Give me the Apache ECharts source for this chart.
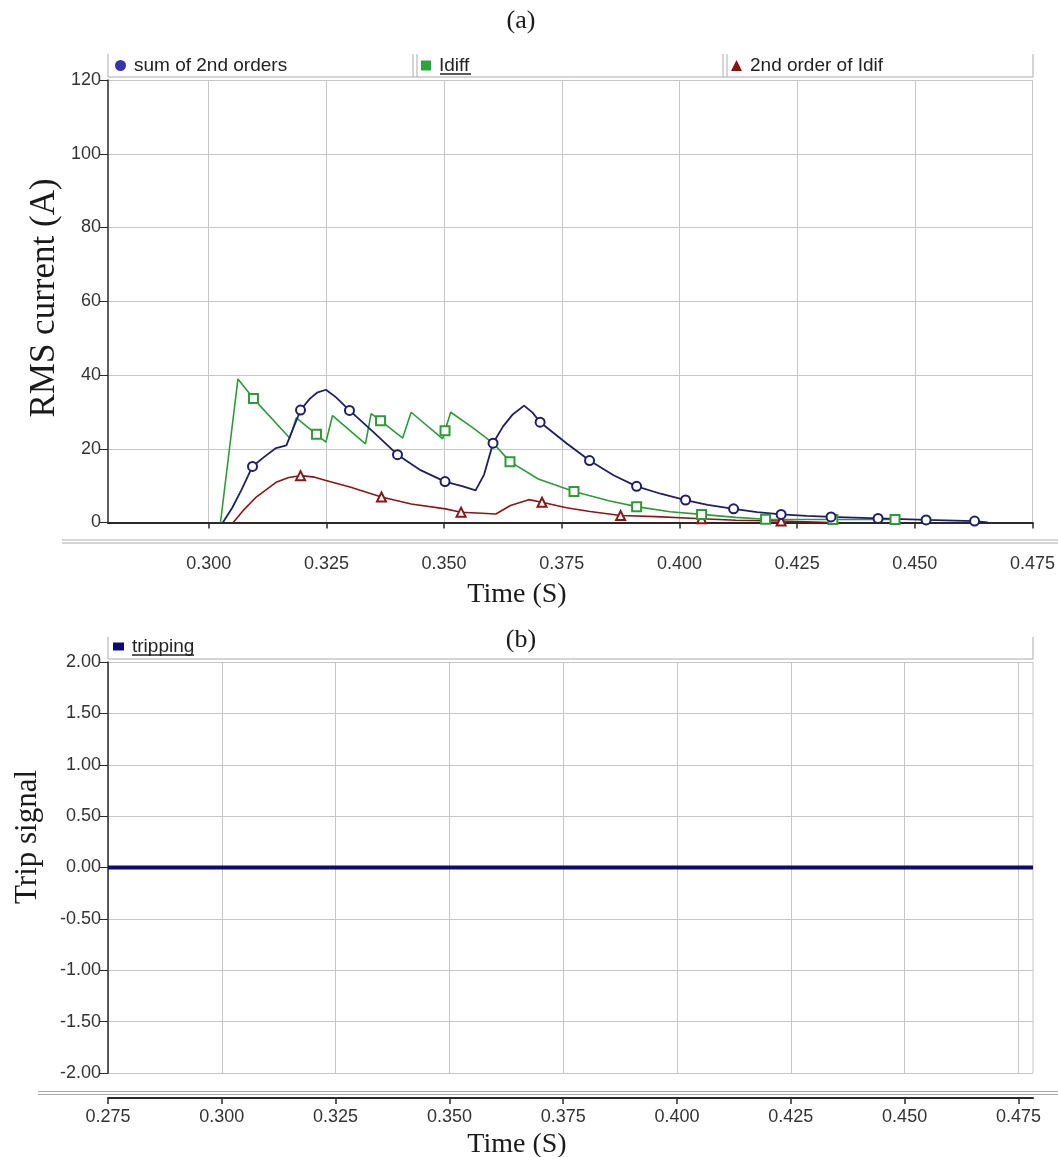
<!DOCTYPE html>
<html><head><meta charset="utf-8">
<script src="https://cdn.jsdelivr.net/npm/echarts@6/dist/echarts.min.js"></script>
<style>html,body{margin:0;padding:0;background:#fff}#c{width:1058px;height:1157px}</style>
</head><body><div id="c"></div>
<script>
// ---- data ----
const X_TICKS_A = [0.300, 0.325, 0.350, 0.375, 0.400, 0.425, 0.450, 0.475];
const X_TICKS_B = [0.275, 0.300, 0.325, 0.350, 0.375, 0.400, 0.425, 0.450, 0.475];

const SUM_T = [0.3030, 0.3050, 0.3070, 0.3093, 0.3120, 0.3143, 0.3165, 0.3186, 0.3195, 0.3215, 0.3230, 0.3249, 0.3270, 0.3299, 0.3350, 0.3401, 0.3450, 0.3502, 0.3540, 0.3567, 0.3585, 0.3604, 0.3625, 0.3645, 0.3670, 0.3688, 0.3704, 0.3760, 0.3809, 0.3860, 0.3909, 0.3960, 0.4013, 0.4060, 0.4115, 0.4165, 0.4216, 0.4270, 0.4322, 0.4372, 0.4422, 0.4524, 0.4627, 0.4655];
const SUM_V = [0, 4.0, 9.0, 15.2, 18.0, 20.2, 20.9, 27.6, 30.5, 33.6, 35.2, 36.0, 34.0, 30.4, 24.5, 18.4, 14.2, 11.1, 9.8, 8.7, 13.0, 21.5, 26.0, 29.2, 31.7, 29.8, 27.2, 21.5, 16.8, 12.8, 9.8, 7.8, 6.1, 4.8, 3.7, 2.8, 2.2, 1.8, 1.5, 1.3, 1.1, 0.7, 0.4, 0];
const SUM_MARKS = [0.3093, 0.3195, 0.3299, 0.3401, 0.3502, 0.3604, 0.3704, 0.3809, 0.3909, 0.4013, 0.4115, 0.4216, 0.4322, 0.4422, 0.4524, 0.4627];

const IDIFF_T = [0.3025, 0.3062, 0.3095, 0.3172, 0.3186, 0.3229, 0.3249, 0.3263, 0.3333, 0.3345, 0.3365, 0.3412, 0.3430, 0.3497, 0.3502, 0.3514, 0.3560, 0.3606, 0.3640, 0.3700, 0.3776, 0.3850, 0.3909, 0.3980, 0.4047, 0.4120, 0.4183, 0.4326, 0.4458, 0.4465];
const IDIFF_V = [0, 38.9, 33.6, 22.9, 28.4, 23.9, 21.8, 29.0, 21.3, 29.5, 27.6, 22.9, 29.9, 22.7, 24.9, 29.9, 25.8, 21.3, 16.5, 11.8, 8.4, 5.9, 4.3, 2.9, 2.2, 1.4, 0.9, 0.8, 0.8, 0];
const IDIFF_MARKS = [0.3095, 0.3229, 0.3365, 0.3502, 0.3640, 0.3776, 0.3909, 0.4047, 0.4183, 0.4326, 0.4458];

const H2_T = [0.3052, 0.3075, 0.3101, 0.3143, 0.3170, 0.3195, 0.3225, 0.3249, 0.3300, 0.3367, 0.3430, 0.3503, 0.3536, 0.3580, 0.3610, 0.3641, 0.3680, 0.3708, 0.3760, 0.3810, 0.3875, 0.3950, 0.4047, 0.4120, 0.4216, 0.4320];
const H2_V = [0, 3.5, 6.9, 10.9, 12.2, 12.7, 12.3, 11.4, 9.6, 6.9, 5.0, 3.7, 2.8, 2.5, 2.3, 4.6, 6.2, 5.5, 4.0, 3.0, 1.9, 1.6, 1.0, 0.6, 0.4, 0];
const H2_MARKS = [0.3195, 0.3367, 0.3536, 0.3708, 0.3875, 0.4047, 0.4216];

const TRIP_T = [0.275, 0.4782];
const TRIP_V = [0, 0];

// ---- styles ----
const C_SUM = '#1f1f68', C_IDIFF = '#2f9a38', C_H2 = '#8a1616', C_TRIP = '#0b0b72';
const C_GRID = '#c6c6c6', C_AXIS = '#2a2a2a', C_SEP = '#ababab';
const SANS = '"Liberation Sans", Arial, sans-serif';
const SERIF = '"Liberation Serif", "Times New Roman", serif';

function build(T, V, marks, sym) {
  return T.map((t, i) => ({ value: [t, V[i]], symbol: marks.includes(t) ? sym : 'none' }));
}

const chart = echarts.init(document.getElementById('c'), null, { renderer: 'canvas' });

const xLabel = (ticks) => ({ customValues: ticks, formatter: v => v.toFixed(3), fontSize: 18, color: '#333', margin: 10, fontFamily: SANS });

const legendBase = {
  padding: 0, itemWidth: 11, itemHeight: 11, selectedMode: false,
  textStyle: { fontSize: 19, color: '#222', fontFamily: SANS, padding: [0, 0, 0, 3] }
};

const line = (x1, y1, x2, y2, color, w) => ({ type: 'line', shape: { x1, y1, x2, y2 }, style: { stroke: color, lineWidth: w || 1 }, silent: true });
const txt = (x, y, text, font, rot) => ({ type: 'text', x, y, rotation: rot || 0, style: { text, font, fill: '#1a1a1a', align: 'center', verticalAlign: 'middle' }, silent: true });

const option = {
  animation: false,
  backgroundColor: '#fff',
  grid: [
    { left: 108, top: 80, width: 925, height: 442.5 },
    { left: 108, top: 662, width: 925, height: 411 }
  ],
  xAxis: [
    { gridIndex: 0, type: 'value', min: 0.2786, max: 0.475, position: 'bottom', offset: 23,
      axisLine: { show: true, lineStyle: { color: C_AXIS, width: 2 } },
      axisTick: { show: true, length: 6, customValues: X_TICKS_A, lineStyle: { color: C_AXIS, width: 1.5 } },
      axisLabel: xLabel(X_TICKS_A),
      splitLine: { show: true, lineStyle: { color: C_GRID, width: 1 } } },
    { gridIndex: 0, type: 'value', min: 0.2786, max: 0.475, position: 'bottom', offset: 0,
      axisLine: { show: true, onZero: false, lineStyle: { color: C_AXIS, width: 2 } },
      axisTick: { show: false }, axisLabel: { show: false }, splitLine: { show: false } },
    { gridIndex: 1, type: 'value', min: 0.275, max: 0.4782, position: 'bottom', offset: 25,
      axisLine: { show: true, onZero: false, lineStyle: { color: C_AXIS, width: 2 } },
      axisTick: { show: true, length: 6, customValues: X_TICKS_B, lineStyle: { color: C_AXIS, width: 1.5 } },
      axisLabel: xLabel(X_TICKS_B),
      splitLine: { show: true, lineStyle: { color: C_GRID, width: 1 } } }
  ],
  yAxis: [
    { gridIndex: 0, type: 'value', min: 0, max: 120, interval: 20,
      axisLine: { show: true, lineStyle: { color: C_AXIS, width: 1.5 } },
      axisTick: { show: true, length: 8, lineStyle: { color: C_AXIS } },
      axisLabel: { fontSize: 18, color: '#333', margin: 7, fontFamily: SANS },
      splitLine: { show: true, lineStyle: { color: C_GRID } } },
    { gridIndex: 1, type: 'value', min: -2, max: 2, interval: 0.5,
      axisLine: { show: true, onZero: false, lineStyle: { color: C_AXIS, width: 1.5 } },
      axisTick: { show: true, length: 8, lineStyle: { color: C_AXIS } },
      axisLabel: { fontSize: 18, color: '#333', margin: 7, fontFamily: SANS, formatter: v => v.toFixed(2) },
      splitLine: { show: true, lineStyle: { color: C_GRID } } }
  ],
  legend: [
    Object.assign({}, legendBase, { left: 115, top: 56, data: [{ name: 'sum of 2nd orders', icon: 'circle', itemStyle: { color: '#3535aa' } }] }),
    Object.assign({}, legendBase, { left: 421, top: 56, itemWidth: 10, itemHeight: 10, data: [{ name: 'Idiff', icon: 'rect', itemStyle: { color: '#2ca53c' } }] }),
    Object.assign({}, legendBase, { left: 731, top: 56, data: [{ name: '2nd order of Idif', icon: 'triangle', itemStyle: { color: '#8e1111' } }] }),
    Object.assign({}, legendBase, { left: 113, top: 637, itemHeight: 8, data: [{ name: 'tripping', icon: 'rect', itemStyle: { color: C_TRIP } }] })
  ],
  series: [
    { type: 'line', name: '2nd order of Idif', xAxisIndex: 0, yAxisIndex: 0, symbol: 'emptyTriangle', showSymbol: true, symbolSize: 9,
      data: build(H2_T, H2_V, H2_MARKS, 'emptyTriangle'),
      lineStyle: { color: C_H2, width: 1.6 }, itemStyle: { color: C_H2, borderWidth: 1.2 } },
    { type: 'line', name: 'Idiff', xAxisIndex: 0, yAxisIndex: 0, symbol: 'emptyRect', showSymbol: true, symbolSize: 9,
      data: build(IDIFF_T, IDIFF_V, IDIFF_MARKS, 'emptyRect'),
      lineStyle: { color: C_IDIFF, width: 1.6 }, itemStyle: { color: C_IDIFF, borderWidth: 1.2 } },
    { type: 'line', name: 'sum of 2nd orders', xAxisIndex: 0, yAxisIndex: 0, symbol: 'emptyCircle', showSymbol: true, symbolSize: 9,
      data: build(SUM_T, SUM_V, SUM_MARKS, 'emptyCircle'),
      lineStyle: { color: C_SUM, width: 1.8 }, itemStyle: { color: C_SUM, borderWidth: 1.2 } },
    { type: 'line', name: 'tripping', xAxisIndex: 2, yAxisIndex: 1, symbol: 'none', showSymbol: false,
      data: TRIP_T.map((t, i) => [t, TRIP_V[i]]),
      lineStyle: { color: C_TRIP, width: 4 }, itemStyle: { color: C_TRIP } }
  ],
  graphic: [
    txt(521, 21, '(a)', '26px ' + SERIF),
    txt(521, 640, '(b)', '26px ' + SERIF),
    txt(45, 298, 'RMS current (A)', '35px ' + SERIF, Math.PI / 2),
    txt(28, 837, 'Trip signal', '31px ' + SERIF, Math.PI / 2),
    txt(517, 595, 'Time (S)', '28px ' + SERIF),
    txt(517, 1145, 'Time (S)', '28px ' + SERIF),
    // legend frames (a)
    line(108, 54, 108, 77, C_SEP), line(413, 54, 413, 77, C_SEP), line(417, 54, 417, 77, C_SEP),
    line(723, 54, 723, 77, C_SEP), line(727, 54, 727, 77, C_SEP), line(1033, 54, 1033, 77, C_SEP),
    line(108, 77, 1033, 77, C_SEP),
    // legend frame (b)
    line(108, 637, 108, 659, C_SEP), line(1033, 637, 1033, 659, C_SEP), line(108, 659, 1033, 659, C_SEP),
    // underlines
    line(440, 74, 471, 74, '#222', 1.5), line(132, 655, 194, 655, '#222', 1.5),
    // double separators above x axes
    line(62, 540, 1058, 540, C_SEP, 1.2), line(62, 543, 1058, 543, C_SEP, 1.2),
    line(38, 1091.5, 1058, 1091.5, C_SEP, 1.2), line(38, 1094.5, 1058, 1094.5, C_SEP, 1.2),
    // right border of plot (b)
    line(1033, 662, 1033, 1073, C_GRID, 1)
  ]
};
chart.setOption(option);
</script>
</body></html>
